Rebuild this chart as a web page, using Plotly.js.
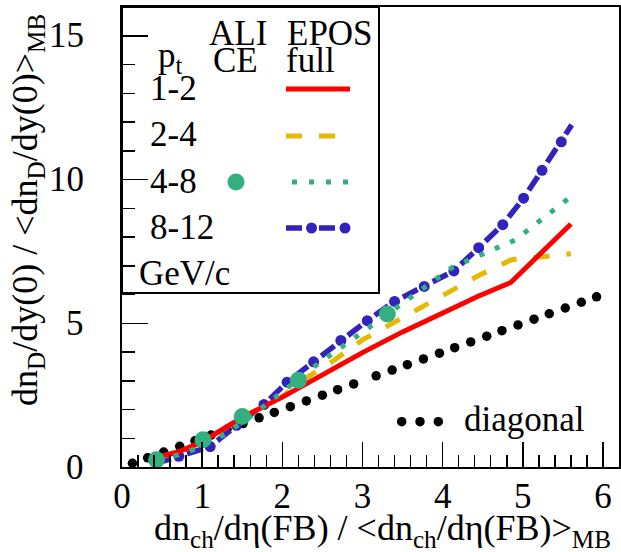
<!DOCTYPE html>
<html><head><meta charset="utf-8">
<script src="https://cdn.plot.ly/plotly-3.0.1.min.js"></script>
<style>html,body{margin:0;padding:0;background:#fff}#chart{width:621px;height:552px}</style>
</head><body><div id="chart"></div>
<script>
// ---- data ----
const diagX = [0.13,0.32,0.52,0.72,0.91,1.11,1.31,1.51,1.71,1.90,2.10,2.30,2.50,2.69,2.89,3.17,3.37,3.56,3.76,3.96,4.15,4.35,4.55,4.74,4.94,5.14,5.33,5.53,5.73,5.92];
const diagY = [0.13,0.32,0.52,0.72,0.91,1.11,1.31,1.51,1.71,1.90,2.10,2.30,2.50,2.69,2.89,3.17,3.37,3.56,3.76,3.96,4.15,4.35,4.55,4.74,4.94,5.14,5.33,5.53,5.73,5.92];

const aliceX = [0.43,1.01,1.50,2.20,3.31];
const aliceY = [0.25,0.95,1.76,3.02,5.32];

const pt12X = [0.45,0.70,1.00,1.25,1.50,2.00,2.50,3.00,3.50,4.00,4.45,4.85,5.60];
const pt12Y = [0.35,0.52,0.88,1.28,1.72,2.43,3.22,3.98,4.70,5.38,5.95,6.42,8.45];

const pt24X = [0.45,1.00,1.50,2.00,2.30,2.65,3.00,3.35,3.72,4.10,4.45,4.85,4.95,5.20,5.40,5.60];
const pt24Y = [0.30,0.85,1.72,2.45,3.10,3.72,4.42,4.95,5.53,6.10,6.66,7.20,7.25,7.30,7.35,7.42];

const pt48X = [0.45,0.89,1.27,1.60,1.93,2.43,2.78,3.12,3.46,3.63,3.96,4.14,4.33,4.52,4.72,4.90,5.07,5.23,5.40,5.60];
const pt48Y = [0.20,0.60,1.12,1.75,2.46,3.56,4.25,4.91,5.61,5.96,6.65,6.98,7.20,7.42,7.64,7.89,8.25,8.62,8.97,9.40];

const pt812X = [0.45,0.71,1.10,1.43,1.77,2.06,2.39,2.73,3.06,3.40,3.77,4.14,4.45,4.75,5.01,5.24,5.48,5.61];
const pt812Y = [0.15,0.37,0.71,1.45,2.17,2.95,3.66,4.40,5.09,5.76,6.28,6.82,7.63,8.43,9.35,10.32,11.31,11.90];

const xTickVals = [0,1,2,3,4,5,6];
const yTickVals = [0,5,10,15];
const ptLabels = ['1-2','2-4','4-8','8-12'];

// ---- styling / layout ----
const FONT = 'Liberation Serif';
const W = 621, H = 552, ML = 122, MR = 2, MT = 7, MB = 85;
const PW = W - ML - MR, PH = H - MT - MB;
const fx = p => (p - ML) / PW;          // pixel -> paper x
const fy = p => (H - MB - p) / PH;      // pixel -> paper y

const RED = '#ff0000', YEL = '#e6b800', GRN = '#33b07f', BLU = '#3322bb';

const traces = [
  {x: diagX, y: diagY, mode: 'markers', marker: {color: '#000', size: 9.5}, hoverinfo: 'skip'},
  {x: pt812X, y: pt812Y, mode: 'lines+markers',
   line: {color: BLU, width: 5.5, dash: '13.3px,17px,3.26px,0px'},
   marker: {color: BLU, opacity: 1, line: {width: 0},
            size: pt812X.map((_, i) => (i === 0 || i === pt812X.length - 1) ? 0 : 11)}},
  {x: pt24X, y: pt24Y, mode: 'lines', line: {color: YEL, width: 5, dash: '16px,17px'}},
  {x: pt12X, y: pt12Y, mode: 'lines', line: {color: RED, width: 5}},
  {x: pt48X, y: pt48Y, mode: 'lines', line: {color: GRN, width: 5, dash: '5px,11.7px'}},
  {x: aliceX, y: aliceY, mode: 'markers', marker: {color: GRN, size: 17}},
];

// legend keys (decoration, on an overlay axis in paper units)
const key = (x, y, extra) => Object.assign({x, y, xaxis: 'x2', yaxis: 'y2', cliponaxis: false, hoverinfo: 'skip'}, extra);
traces.push(
  key([fx(286), fx(350)], [fy(89), fy(89)], {mode: 'lines', line: {color: RED, width: 5}}),
  key([fx(286), fx(337)], [fy(136), fy(136)], {mode: 'lines', line: {color: YEL, width: 5, dash: '16px,17px'}}),
  key([fx(292), fx(348)], [fy(182), fy(182)], {mode: 'lines', line: {color: GRN, width: 5, dash: '5px,12px'}}),
  key([fx(286), fx(352)], [fy(228), fy(228)], {mode: 'lines', line: {color: BLU, width: 5.5, dash: '16px,17px'}}),
  key([fx(311.5), fx(345)], [fy(228), fy(228)], {mode: 'markers', marker: {color: BLU, size: 11}}),
  key([fx(236)], [fy(182)], {mode: 'markers', marker: {color: GRN, size: 17}}),
  key([fx(401.7), fx(420), fx(438.3)], [fy(421.7), fy(421.7), fy(421.7)], {mode: 'markers', marker: {color: '#000', size: 9.5}})
);

const txt = (text, xp, yp, extra) => Object.assign({
  text, x: fx(xp), y: fy(yp), xref: 'paper', yref: 'paper', showarrow: false,
  xanchor: 'center', yanchor: 'middle', font: {family: FONT, size: 35, color: '#000'}
}, extra);

const rowY = [88.5, 135, 181.5, 227.5];
const annotations = [
  // y-axis tick labels, positioned through the y scale
  ...yTickVals.map(v => ({text: String(v), x: fx(86), xref: 'paper', y: v, yref: 'y', showarrow: false,
                          xanchor: 'right', yanchor: 'middle', font: {family: FONT, size: 35, color: '#000'}})),
  txt('p<sub>t</sub>', 170, 57),
  txt('ALI', 237.5, 33), txt('CE', 235, 61),
  txt('EPOS', 329.5, 33), txt('full', 310, 60),
  ...ptLabels.map((t, i) => txt(t, 148, rowY[i], {xanchor: 'left'})),
  txt('GeV/c', 184.5, 273),
  txt('diagonal', 524, 419),
  txt('dn<sub>ch</sub>/dη(FB) / &lt;dn<sub>ch</sub>/dη(FB)&gt;<sub>MB</sub>', 382, 506,
      {yanchor: 'top', font: {family: FONT, size: 36, color: '#000'}}),
  txt('dn<sub>D</sub>/dy(0) / &lt;dn<sub>D</sub>/dy(0)&gt;<sub>MB</sub>', 27, 210,
      {textangle: -90, font: {family: FONT, size: 36, color: '#000'}}),
];

const layout = {
  width: W, height: H, margin: {l: ML, r: MR, t: MT, b: MB},
  paper_bgcolor: '#fff', plot_bgcolor: '#fff', showlegend: false,
  font: {family: FONT, size: 35, color: '#000'},
  xaxis: {range: [0, 6.2], tickvals: xTickVals, ticks: 'inside', ticklen: 25, tickwidth: 1.5, tickcolor: '#000',
          minor: {dtick: 0.2, ticks: 'inside', ticklen: 12, tickwidth: 1.5, tickcolor: '#000'},
          showgrid: false, zeroline: false, showline: true, mirror: true, linewidth: 2, linecolor: '#000',
          ticklabelstandoff: -3, tickfont: {family: FONT, size: 35, color: '#000'}},
  yaxis: {range: [0, 16], tickvals: yTickVals, showticklabels: false, ticks: 'inside', ticklen: 26, tickwidth: 1.5, tickcolor: '#000',
          minor: {dtick: 1, ticks: 'inside', ticklen: 13, tickwidth: 1.5, tickcolor: '#000'},
          showgrid: false, zeroline: false, showline: true, mirror: true, linewidth: 2, linecolor: '#000'},
  xaxis2: {overlaying: 'x', range: [0, 1], visible: false, fixedrange: true},
  yaxis2: {overlaying: 'y', range: [0, 1], visible: false, fixedrange: true},
  shapes: [{type: 'rect', xref: 'paper', yref: 'paper', x0: 0, x1: fx(379), y0: fy(293), y1: 1,
            line: {color: '#000', width: 2}, fillcolor: 'rgba(0,0,0,0)', layer: 'above'}],
  annotations
};

Plotly.newPlot('chart', traces, layout, {displayModeBar: false, staticPlot: true});
</script></body></html>
